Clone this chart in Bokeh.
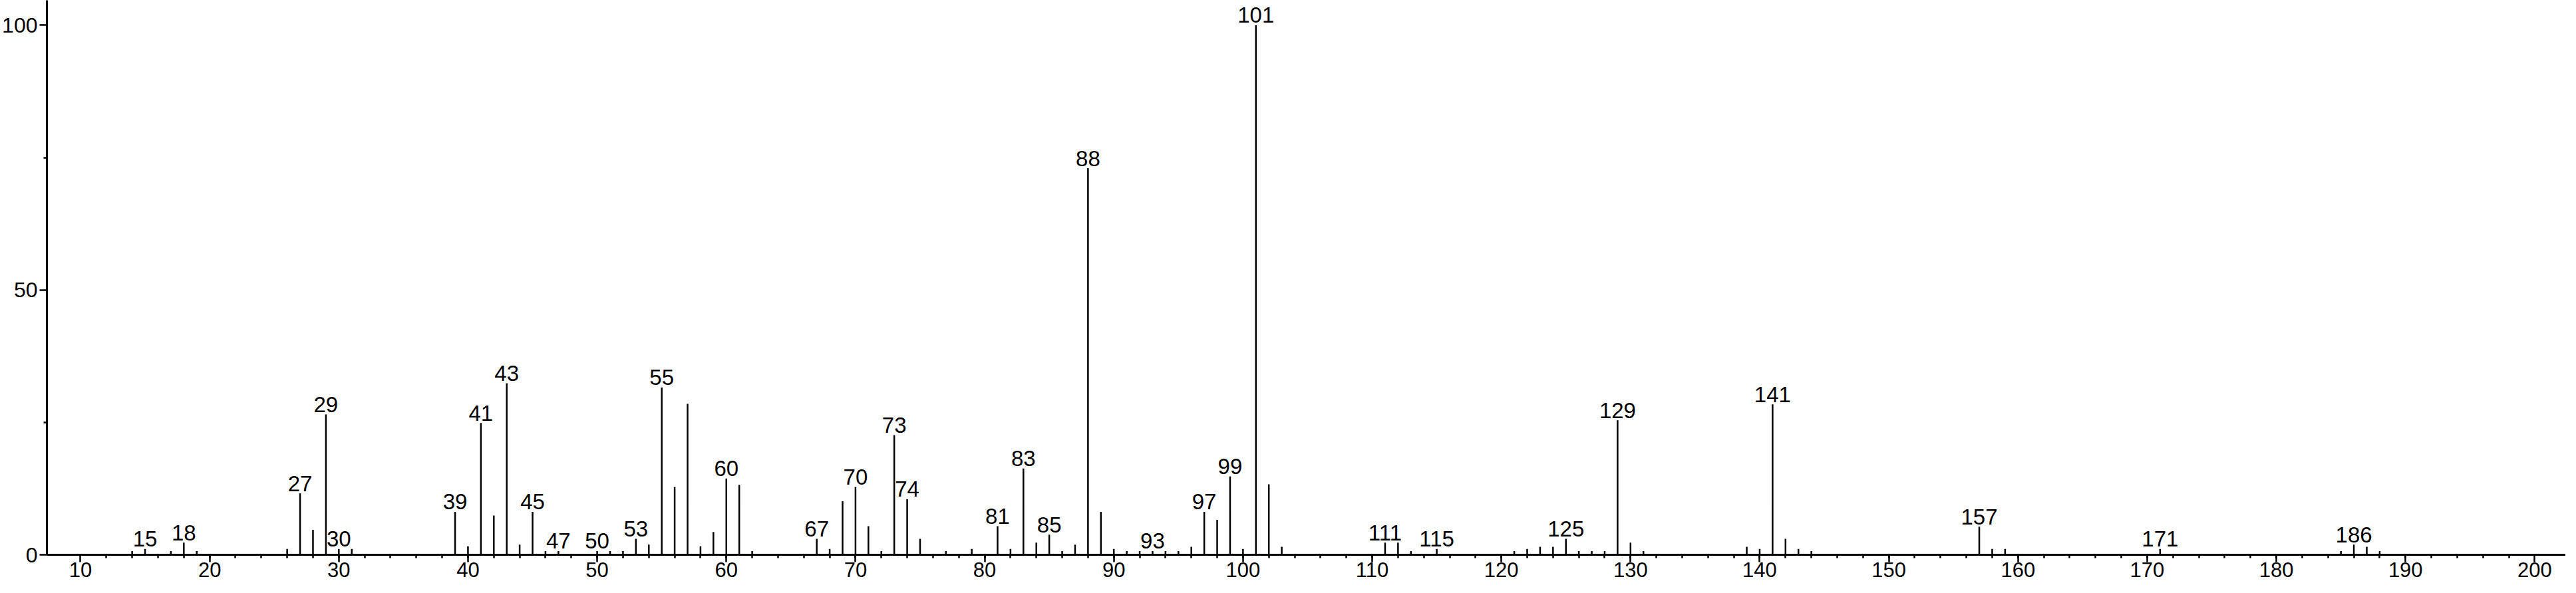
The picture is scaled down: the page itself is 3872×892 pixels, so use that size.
from bokeh.plotting import figure
from bokeh.models import ColumnDataSource, FixedTicker, Range1d
from bokeh.core.properties import value
from bokeh.embed import file_html
from bokeh.resources import INLINE

# m/z values and relative intensities (%)
mz = [14, 15, 17, 18, 19, 26, 27, 28, 29, 30, 31, 39, 40, 41, 42, 43, 44, 45, 46, 47,
      50, 51, 52, 53, 54, 55, 56, 57, 58, 59, 60, 61, 62, 67, 68, 69, 70, 71, 72, 73,
      74, 75, 77, 79, 81, 82, 83, 84, 85, 86, 87, 88, 89, 90, 91, 92, 93, 94, 95, 96,
      97, 98, 99, 100, 101, 102, 103, 111, 112, 113, 115, 121, 122, 123, 124, 125, 126,
      127, 128, 129, 130, 131, 139, 140, 141, 142, 143, 144, 157, 158, 159, 171, 185,
      186, 187, 188]
intensity = [0.7, 1.1, 0.7, 2.3, 0.7, 1.1, 11.6, 4.7, 26.5, 1.1, 1.1, 8.1, 1.6, 24.9, 7.4, 32.4, 1.9, 8.1, 0.7, 0.7,
             0.7, 0.7, 0.7, 3.0, 1.9, 31.6, 12.8, 28.5, 1.6, 4.3, 14.4, 13.2, 0.7, 3.0, 1.1, 10.1, 12.8, 5.4, 0.7, 22.6,
             10.5, 3.0, 0.7, 1.1, 5.4, 1.1, 16.3, 2.3, 3.8, 0.7, 1.9, 73.0, 8.1, 1.1, 0.7, 0.7, 0.7, 0.7, 0.7, 1.5,
             8.1, 6.6, 14.8, 1.1, 100.0, 13.3, 1.5, 2.3, 2.3, 0.7, 1.1, 0.7, 1.1, 1.5, 1.5, 3.0, 0.7,
             0.7, 0.7, 25.4, 2.3, 0.7, 1.5, 1.1, 28.4, 3.0, 1.1, 0.7, 5.3, 1.1, 1.1, 1.1, 0.7,
             1.9, 1.5, 0.7]

labeled_mz = [15, 18, 27, 29, 30, 39, 41, 43, 45, 47, 50, 53, 55, 60, 67, 70, 73, 74, 81, 83,
              85, 88, 93, 97, 99, 101, 111, 115, 125, 129, 141, 157, 171, 186]

x_major_ticks = list(range(10, 201, 10))
x_minor_ticks = list(range(12, 200, 2))
y_major_ticks = [0, 50, 100]
y_minor_ticks = [25, 75]

FONT = "Liberation Sans"

lookup = dict(zip(mz, intensity))
peaks = ColumnDataSource(dict(mz=mz, y0=[0] * len(mz), inten=intensity))
labels = ColumnDataSource(dict(mz=labeled_mz,
                               inten=[lookup[m] for m in labeled_mz],
                               txt=[str(m) for m in labeled_mz]))

p = figure(width=3856, height=876, output_backend="svg", toolbar_location=None,
           x_range=Range1d(7.4, 202.4), y_range=Range1d(0, 104.7),
           min_border_left=0, min_border_right=0, min_border_top=0, min_border_bottom=0)
p.background_fill_color = "white"
p.border_fill_color = "white"
p.outline_line_color = None
p.grid.visible = False

p.segment(x0="mz", y0="y0", x1="mz", y1="inten", source=peaks,
          line_color="black", line_width=2.5)
p.text(x="mz", y="inten", text="txt", source=labels, text_align="center",
       text_baseline="alphabetic", y_offset=-15, text_color="black",
       text_font=value(FONT), text_font_size="33px")

for ax in (p.xaxis[0], p.yaxis[0]):
    ax.axis_line_width = 3
    ax.axis_line_color = "black"
    ax.major_tick_line_width = 2.5
    ax.minor_tick_line_width = 2.5
    ax.major_tick_in = 0
    ax.minor_tick_in = 0
    ax.minor_tick_out = 5
    ax.major_label_text_font = FONT
    ax.major_label_text_color = "black"

p.xaxis.ticker = FixedTicker(ticks=x_major_ticks, minor_ticks=x_minor_ticks)
p.xaxis.major_tick_out = 11
p.xaxis.major_label_standoff = 0
p.xaxis.major_label_text_font_size = "31px"
# a blank, tiny axis label just keeps the tick labels off the page's bottom edge
p.xaxis.axis_label = " "
p.xaxis.axis_label_text_font_size = "3px"
p.xaxis.axis_label_standoff = 0

p.yaxis.ticker = FixedTicker(ticks=y_major_ticks, minor_ticks=y_minor_ticks)
p.yaxis.major_tick_out = 11
p.yaxis.major_label_standoff = 3
p.yaxis.major_label_text_font_size = "32px"

open("out.html", "w").write(file_html(p, INLINE))
